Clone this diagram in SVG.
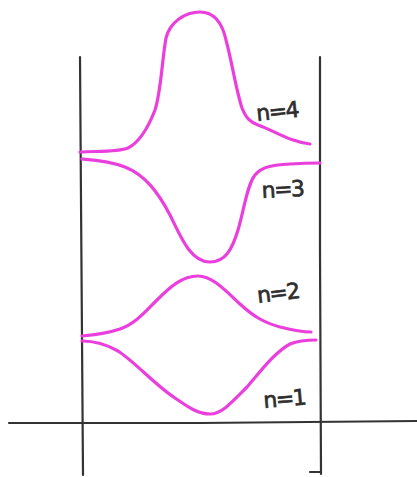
<svg xmlns="http://www.w3.org/2000/svg" width="417" height="477" viewBox="0 0 417 477">
<style>
.ax{fill:none;stroke:#333;stroke-width:2.2;stroke-linecap:round}
.wf{fill:none;stroke:#eb3fdd;stroke-width:3.2;stroke-linecap:round;stroke-linejoin:round}
.lb{font-family:"DejaVu Sans",sans-serif;font-size:22px;fill:#2e2e2e;stroke:#2e2e2e;stroke-width:0.7;letter-spacing:-1.5px}
</style>
<rect width="417" height="477" fill="#fff"/>
<g id="axes">
<path class="ax" d="M80,57 L81,200 L83,475"/>
<path class="ax" d="M320,57 L320,250 L321,474 M310,472 L321,472"/>
<path class="ax" d="M9,423 L200,423 L417,421"/>
</g>
<g id="curves">
<path id="n4" class="wf" d="M80,152 C100,151 118,152 128,148 C140,142 148,128 155,110 C161,92 162,60 166,38 C170,22 185,12 200,12 C214,12 222,22 226,40 C232,62 236,90 242,108 C246,118 250,122 258,125 C275,131 290,142 310,144"/>
<path id="n3" class="wf" d="M82,159 C95,160 110,161 125,167 C145,175 158,192 170,215 C180,235 190,262 210,262 C225,262 232,250 238,230 C244,210 247,185 255,175 C262,166 275,165 290,164 C305,163 315,163 320,163"/>
<path id="n2" class="wf" d="M82,336 C95,335 108,333 120,329 C135,324 145,312 157,300 C170,287 182,276 198,276 C212,276 225,290 240,304 C252,315 262,322 280,327 C292,330 302,332 311,332"/>
<path id="n1" class="wf" d="M82,341 C92,341 104,343 118,351 C135,362 155,385 175,398 C188,407 198,414 210,414 C222,414 232,402 247,387 C260,372 275,352 290,344 C300,340 308,340 316,340"/>
</g>
<g id="labels">
<text class="lb" transform="translate(257,121) rotate(-6)">n=4</text>
<text class="lb" transform="translate(262,198) rotate(-3)">n=3</text>
<text class="lb" transform="translate(258,303) rotate(-7)">n=2</text>
<text class="lb" transform="translate(264,408) rotate(-5)">n=1</text>
</g>
</svg>
